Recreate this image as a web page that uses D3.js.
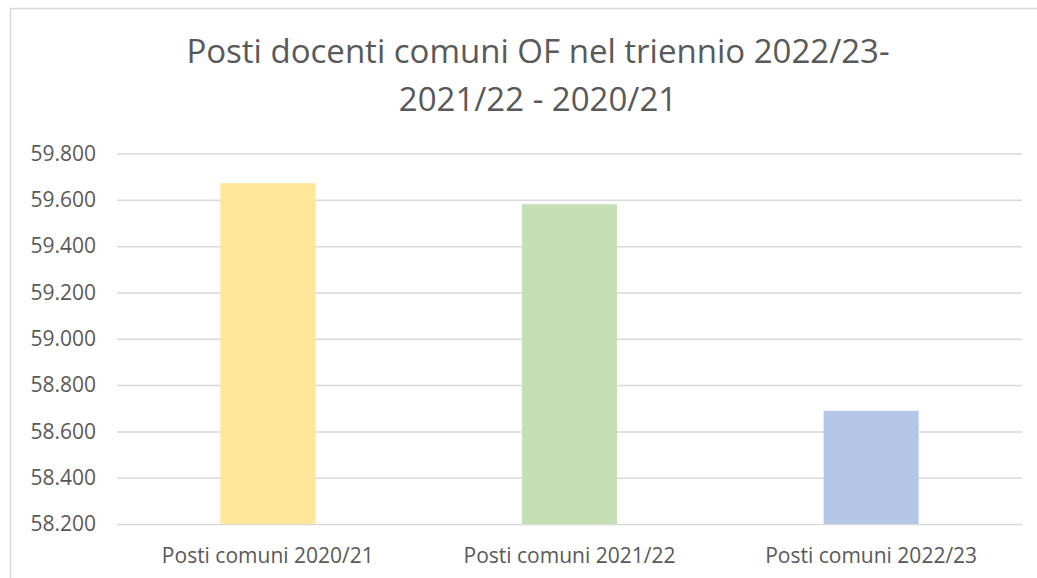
<!DOCTYPE html>
<html>
<head>
<meta charset="utf-8">
<script src="https://cdn.jsdelivr.net/npm/d3@7"></script>
<style>
  body { margin: 0; background: #fff; }
  svg { display: block; }
  text { font-family: "Open Sans", "Noto Sans", sans-serif; fill: #595959; }
</style>
</head>
<body>
<svg id="chart"></svg>
<script>
// chart data
const categories = ['Posti comuni 2020/21', 'Posti comuni 2021/22', 'Posti comuni 2022/23'];
const values = [59672, 59581, 58689];
const barColors = ['#FFE699', '#C5E0B4', '#B4C7E7'];
const yTicks = [58200, 58400, 58600, 58800, 59000, 59200, 59400, 59600, 59800];
const titleLines = ['Posti docenti comuni OF nel triennio 2022/23-', '2021/22 - 2020/21'];

const W = 1037, H = 578;
const margin = {left: 117, right: 15, top: 153.5, bottom: 54};

const svg = d3.select('svg#chart').attr('width', W).attr('height', H);

// chart frame (only left and top edges are visible in the crop)
svg.append('path')
  .attr('d', `M10.5,${H} V8.5 H${W}`)
  .attr('fill', 'none')
  .attr('stroke', '#D9D9D9')
  .attr('stroke-width', 1.5);

const x = d3.scaleBand()
  .domain(categories)
  .range([margin.left, W - margin.right])
  .paddingInner(0.685)
  .paddingOuter(0.3425);

const y = d3.scaleLinear()
  .domain([58200, 59800])
  .range([H - margin.bottom, margin.top]);

const fmt = v => d3.format(',')(v).replace(/,/g, '.');

// gridlines + y labels
const yAxis = d3.axisLeft(y)
  .tickValues(yTicks)
  .tickFormat(fmt)
  .tickSize(-(W - margin.right - margin.left))
  .tickPadding(21);

const gy = svg.append('g')
  .attr('transform', `translate(${margin.left},0)`)
  .call(yAxis);
gy.select('.domain').remove();
gy.selectAll('line').attr('stroke', '#D9D9D9').attr('stroke-width', 1.5);
gy.selectAll('text')
  .attr('font-size', '21px')
  .attr('fill', '#595959')
  .style('font-family', '"Open Sans", sans-serif');

// bars
svg.append('g').selectAll('rect')
  .data(values)
  .join('rect')
  .attr('x', (d, i) => x(categories[i]))
  .attr('width', x.bandwidth())
  .attr('y', d => y(d))
  .attr('height', d => y(58200) - y(d))
  .attr('fill', (d, i) => barColors[i]);

// x labels
svg.append('g').selectAll('text')
  .data(categories)
  .join('text')
  .attr('x', d => x(d) + x.bandwidth() / 2)
  .attr('y', 563)
  .attr('text-anchor', 'middle')
  .attr('font-size', '21px')
  .text(d => d);

// title
svg.append('g').selectAll('text')
  .data(titleLines)
  .join('text')
  .attr('x', 538)
  .attr('y', (d, i) => 63 + i * 48)
  .attr('text-anchor', 'middle')
  .attr('font-size', '33px')
  .text(d => d);
</script>
</body>
</html>
